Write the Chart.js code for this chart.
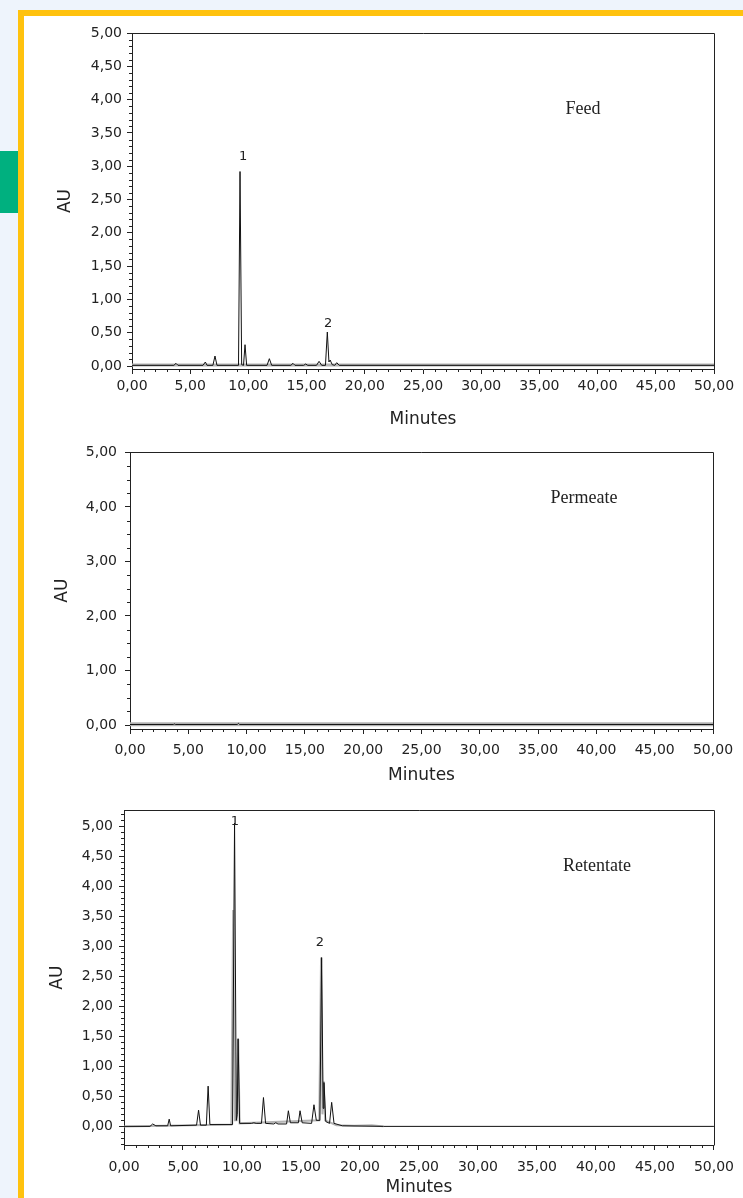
<!DOCTYPE html>
<html>
<head>
<meta charset="utf-8">
<script src="https://cdn.jsdelivr.net/npm/chart.js@4.4.1/dist/chart.umd.min.js"></script>
<style>
  html, body { margin: 0; padding: 0; width: 743px; height: 1198px; overflow: hidden; background: #eef4fc; }
  #green { position: absolute; left: 0; top: 151px; width: 18px; height: 62px; background: #00b07f; }
  #card { position: absolute; left: 18px; top: 10px; width: 740px; height: 1200px; background: #fff;
          border-top: 6px solid #ffc20e; border-left: 6px solid #ffc20e; }
  canvas { position: absolute; left: 24px; }
  .tag { position: absolute; font-family: "Liberation Serif", "Times New Roman", serif; font-size: 18px; color: #222; white-space: nowrap; transform: translate(-50%, -50%); }
</style>
</head>
<body>
<div id="green"></div>
<div id="card"></div>
<canvas id="c1" width="719" height="420" style="top:16px"></canvas>
<canvas id="c2" width="719" height="360" style="top:436px"></canvas>
<canvas id="c3" width="719" height="404" style="top:796px"></canvas>
<div class="tag" style="left:583px; top:108px;">Feed</div>
<div class="tag" style="left:584px; top:497px;">Permeate</div>
<div class="tag" style="left:597px; top:865px;">Retentate</div>
<script>
// ---------------- DATA ----------------
const xTickMinutes = [0, 5, 10, 15, 20, 25, 30, 35, 40, 45, 50];

// Feed chromatogram (black trace)
const feedTimes = [0, 3.6, 3.78, 3.95, 6.1, 6.3, 6.45, 6.95, 7.13, 7.3, 9.15, 9.28, 9.42, 9.58, 9.71, 9.85,
                   11.6, 11.8, 12.0, 13.65, 13.83, 14.0, 14.75, 14.92, 15.1, 15.85, 16.07, 16.3, 16.62, 16.78,
                   16.92, 17.02, 17.2, 17.42, 17.59, 17.8, 50];
const feedAU    = [0.01, 0.01, 0.04, 0.01, 0.01, 0.06, 0.01, 0.01, 0.15, 0.01, 0.01, 2.92, 0.02, 0.01, 0.32, 0.01,
                   0.01, 0.11, 0.01, 0.01, 0.04, 0.01, 0.01, 0.03, 0.01, 0.01, 0.07, 0.01, 0.01, 0.51,
                   0.06, 0.09, 0.02, 0.01, 0.05, 0.01, 0.01];
// Feed overlay (grey baseline trace)
const feedGreyTimes = [0, 50];
const feedGreyAU    = [0.015, 0.015];

// Permeate chromatogram
const permTimes = [0, 3.72, 3.8, 3.88, 9.2, 9.3, 9.4, 50];
const permAU    = [0.01, 0.01, 0.02, 0.01, 0.01, 0.03, 0.01, 0.01];
const permGreyTimes = [0, 50];
const permGreyAU    = [0.015, 0.015];

// Retentate chromatogram (black trace)
const retTimes = [0, 2.2, 2.43, 2.7, 3.7, 3.83, 3.95, 6.15, 6.32, 6.48, 6.98, 7.13, 7.28, 9.2, 9.37, 9.52,
                  9.6, 9.67, 9.8, 10.8, 11.0, 11.2, 11.65, 11.82, 12.0, 12.7, 12.86, 13.05, 13.78, 13.93, 14.1,
                  14.78, 14.92, 15.1, 15.9, 16.1, 16.3, 16.6, 16.75, 16.88, 16.95, 17.1, 17.42, 17.6, 17.8,
                  18.5, 22, 50];
const retAU    = [0, 0, 0.04, 0.01, 0.01, 0.12, 0.01, 0.02, 0.27, 0.02, 0.02, 0.67, 0.03, 0.03, 5.05, 0.1,
                  0.2, 1.46, 0.05, 0.05, 0.06, 0.05, 0.05, 0.48, 0.05, 0.04, 0.06, 0.04, 0.04, 0.26, 0.06,
                  0.06, 0.26, 0.06, 0.05, 0.36, 0.1, 0.1, 2.81, 0.3, 0.73, 0.08, 0.05, 0.40, 0.05,
                  0.01, 0.0, 0.0];
// Retentate overlay (grey trace)
const retGreyTimes = [0, 9.1, 9.25, 9.4, 9.55, 9.68, 9.8, 16.55, 16.7, 16.82, 16.92, 17.05, 18, 19.5, 21, 22];
const retGreyAU    = [0, 0.03, 3.6, 0.1, 0.1, 1.45, 0.05, 0.1, 2.81, 0.2, 0.75, 0.1, 0.02, 0.01, 0.02, 0];

// Peak labels (name, minutes, AU)
const feedPeakNames = ['1', '2'];
const feedPeakT     = [9.54, 16.84];
const feedPeakV     = [3.15, 0.63];
const retPeakNames  = ['1', '2'];
const retPeakT      = [9.4, 16.6];
const retPeakV      = [5.07, 3.06];

// ---------------- HELPERS ----------------
const pts = (xs, ys) => xs.map((t, i) => ({ x: t, y: ys[i] }));
const fmt = v => Number(v).toFixed(2).replace('.', ',');
const INK = '#222';
const SANS = '"DejaVu Sans", "Liberation Sans", sans-serif';

const extras = {
  id: 'extras',
  afterDraw(chart, args, o) {
    const { ctx, chartArea: a, scales } = chart;
    const x = scales.x, y = scales.y;
    ctx.save();
    ctx.strokeStyle = INK;
    ctx.lineWidth = 1;
    // frame top + right
    const T = Math.round(a.top) + 0.5, R = Math.round(a.right) + 0.5;
    ctx.beginPath();
    ctx.moveTo(Math.round(a.left), T);
    ctx.lineTo(R, T);
    ctx.lineTo(R, Math.round(a.bottom) + 0.5);
    ctx.stroke();
    // minor ticks
    ctx.beginPath();
    const near = (v, s) => Math.abs(v / s - Math.round(v / s)) < 1e-6;
    for (let i = Math.ceil(x.min / o.xMinor - 1e-9); i * o.xMinor <= x.max + 1e-9; i++) {
      const v = i * o.xMinor;
      if (near(v, o.xMajor)) continue;
      const px = Math.round(x.getPixelForValue(v)) + 0.5;
      ctx.moveTo(px, Math.round(a.bottom));
      ctx.lineTo(px, Math.round(a.bottom) + 3);
    }
    for (let i = Math.ceil(y.min / o.yMinor - 1e-9); i * o.yMinor <= y.max + 1e-9; i++) {
      const v = i * o.yMinor;
      if (near(v, o.yMajor)) continue;
      const py = Math.round(y.getPixelForValue(v)) + 0.5;
      ctx.moveTo(Math.round(a.left), py);
      ctx.lineTo(Math.round(a.left) - 3, py);
    }
    ctx.stroke();
    // peak labels
    if (o.names) {
      ctx.fillStyle = INK;
      ctx.font = '13px ' + SANS;
      ctx.textAlign = 'center';
      ctx.textBaseline = 'middle';
      o.names.forEach((n, i) => {
        ctx.fillText(n, x.getPixelForValue(o.t[i]), y.getPixelForValue(o.v[i]));
      });
    }
    ctx.restore();
  }
};

function makeChart(id, cfg) {
  const datasets = [
    { data: pts(cfg.greyT, cfg.greyV), borderColor: '#b4b4b4', borderWidth: cfg.greyW, order: 2 },
    { data: pts(cfg.t, cfg.v), borderColor: '#111', borderWidth: 1, order: 1 }
  ].map(d => Object.assign(d, { showLine: true, pointRadius: 0, tension: 0, fill: false }));
  return new Chart(document.getElementById(id), {
    type: 'scatter',
    data: { datasets },
    options: {
      responsive: false,
      animation: false,
      events: [],
      layout: { padding: cfg.pad },
      plugins: {
        legend: { display: false },
        tooltip: { enabled: false },
        extras: { xMinor: 1, xMajor: 5, yMinor: cfg.yMinor, yMajor: cfg.yStep,
                  names: cfg.names, t: cfg.nt, v: cfg.nv }
      },
      scales: {
        x: {
          type: 'linear', min: 0, max: 50,
          afterFit: s => { s.height = cfg.xH; },
          afterBuildTicks: s => { s.ticks = xTickMinutes.map(v => ({ value: v })); },
          ticks: { callback: v => fmt(v), color: INK, font: { family: SANS, size: 14 },
                   padding: cfg.xPad, maxRotation: 0, autoSkip: false },
          grid: { drawOnChartArea: false, drawTicks: true, tickLength: 5, color: INK },
          border: { color: INK, width: 1 },
          title: { display: true, text: 'Minutes', color: INK, font: { family: SANS, size: 17 },
                   padding: { top: 0, bottom: 0 } }
        },
        y: {
          type: 'linear', min: cfg.yMin, max: cfg.yMax,
          afterFit: s => { s.width = cfg.yW; },
          afterBuildTicks: s => { s.ticks = cfg.yTicks.map(v => ({ value: v })); },
          ticks: { callback: v => fmt(v), color: INK, font: { family: SANS, size: 14 },
                   padding: cfg.yPad, autoSkip: false },
          grid: { drawOnChartArea: false, drawTicks: true, tickLength: 5, color: INK },
          border: { color: INK, width: 1 },
          title: { display: true, text: 'AU', color: INK, font: { family: SANS, size: 17 },
                   padding: { top: cfg.auPad, bottom: 0 } }
        }
      }
    },
    plugins: [extras]
  });
}

const yTicksHalf = [0, 0.5, 1, 1.5, 2, 2.5, 3, 3.5, 4, 4.5, 5];
const yTicksOne  = [0, 1, 2, 3, 4, 5];

makeChart('c1', {
  t: feedTimes, v: feedAU, greyT: feedGreyTimes, greyV: feedGreyAU, greyW: 3,
  yMin: -0.045, yMax: 5, yTicks: yTicksHalf, yStep: 0.5, yMinor: 0.1,
  pad: { top: 17, left: 0, right: 29, bottom: 6 }, xH: 61, yW: 108, xPad: 4, yPad: 5, auPad: 31,
  names: feedPeakNames, nt: feedPeakT, nv: feedPeakV
});
makeChart('c2', {
  t: permTimes, v: permAU, greyT: permGreyTimes, greyV: permGreyAU, greyW: 4,
  yMin: -0.073, yMax: 5, yTicks: yTicksOne, yStep: 1, yMinor: 0.25,
  pad: { top: 15, left: 0, right: 30, bottom: 10 }, xH: 57, yW: 106, xPad: 8, yPad: 8, auPad: 28,
  names: null, nt: null, nv: null
});
makeChart('c3', {
  t: retTimes, v: retAU, greyT: retGreyTimes, greyV: retGreyAU, greyW: 2,
  yMin: -0.31, yMax: 5.26, yTicks: yTicksHalf, yStep: 0.5, yMinor: 0.1,
  pad: { top: 10, left: 0, right: 29, bottom: 2 }, xH: 53, yW: 100, xPad: 9, yPad: 6, auPad: 23,
  names: retPeakNames, nt: retPeakT, nv: retPeakV
});
</script>
</body>
</html>
